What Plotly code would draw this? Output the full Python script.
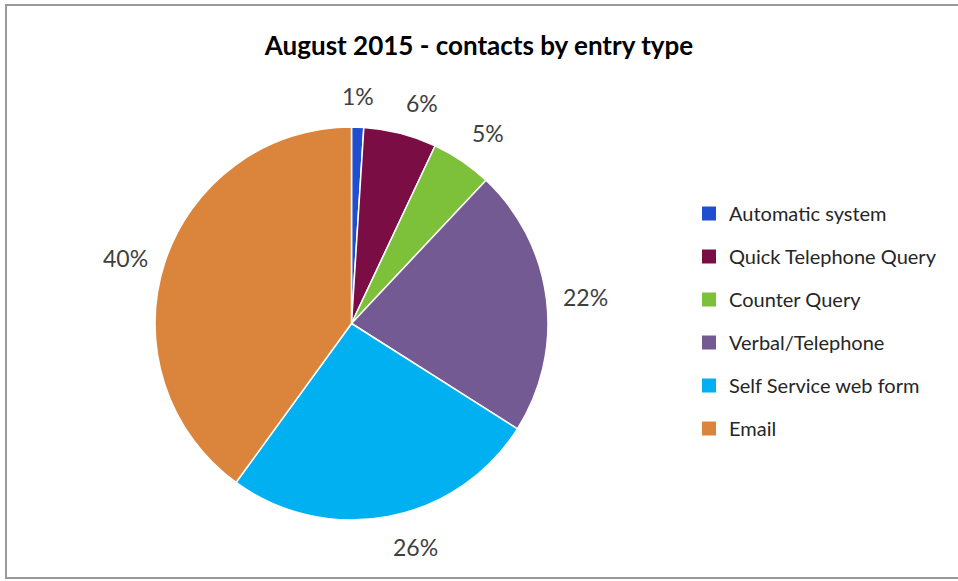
import math
import plotly.graph_objects as go

# Contact entry types and their share of August 2015 contacts (%)
categories = ["Automatic system", "Quick Telephone Query", "Counter Query",
              "Verbal/Telephone", "Self Service web form", "Email"]
shares = [1, 6, 5, 22, 26, 40]
colors = ["#1F4FCF", "#7B0D45", "#7DC13A", "#735A93", "#00B0F0", "#DB853C"]

W, H = 958, 581
FONT = "Lato, 'Open Sans', sans-serif"

# Pie placement in pixels (centre and radius)
CX, CY, R = 351.5, 323.5, 196.5
LABEL_GAP = 15

fig = go.Figure()

fig.add_trace(go.Pie(
    labels=categories,
    values=shares,
    marker=dict(colors=colors, line=dict(color="white", width=1.5)),
    sort=False,
    direction="clockwise",
    rotation=0,
    textinfo="none",
    domain=dict(x=[(CX - R) / W, (CX + R) / W], y=[(H - CY - R) / H, (H - CY + R) / H]),
    showlegend=False,
    hoverinfo="label+percent",
))

# Percentage labels just outside each slice, anchored on the side facing away from the pie
total = sum(shares)
annotations = []
cum = 0.0
for v in shares:
    mid = (cum + v / 2) / total * 2 * math.pi  # clockwise from 12 o'clock
    cum += v
    s, c = math.sin(mid), math.cos(mid)
    px = CX + (R + LABEL_GAP) * s
    py = CY - (R + LABEL_GAP) * c
    xa = "center" if abs(s) < 0.15 else ("left" if s > 0 else "right")
    ya = "bottom" if c > 0.5 else ("top" if c < -0.5 else "middle")
    annotations.append(dict(
        x=px / W, y=(H - py) / H, xref="paper", yref="paper",
        text=f"{round(v / total * 100)}%", showarrow=False,
        xanchor=xa, yanchor=ya,
        font=dict(family=FONT, size=23, color="#404040"),
    ))

# Legend entries: one square marker per category, grouped so they can be spaced out
for name, col in zip(categories, colors):
    fig.add_trace(go.Scatter(
        x=[None], y=[None], mode="markers", name=name,
        marker=dict(symbol="square", size=14, color=col),
        legendgroup=name, showlegend=True, hoverinfo="skip",
    ))

fig.update_layout(
    width=W, height=H,
    margin=dict(l=0, r=0, t=0, b=0),
    paper_bgcolor="white",
    plot_bgcolor="white",
    title=dict(
        text="<b>August 2015 - contacts by entry type</b>",
        x=0.5, xanchor="center", y=1 - 46 / H, yanchor="middle",
        font=dict(family=FONT, size=26, color="#000000"),
    ),
    xaxis=dict(visible=False),
    yaxis=dict(visible=False),
    legend=dict(
        x=689 / W, xanchor="left", y=(H - 194) / H, yanchor="top",
        font=dict(family=FONT, size=20, color="#262626"),
        tracegroupgap=14,
        itemwidth=30,
        bgcolor="rgba(0,0,0,0)",
    ),
    annotations=annotations,
    shapes=[dict(
        type="rect", xref="paper", yref="paper",
        x0=6 / W, x1=1.01, y0=(H - 578) / H, y1=(H - 5) / H,
        line=dict(color="#9A9A9A", width=2), fillcolor="rgba(0,0,0,0)",
    )],
)

fig.write_html("out.html")
